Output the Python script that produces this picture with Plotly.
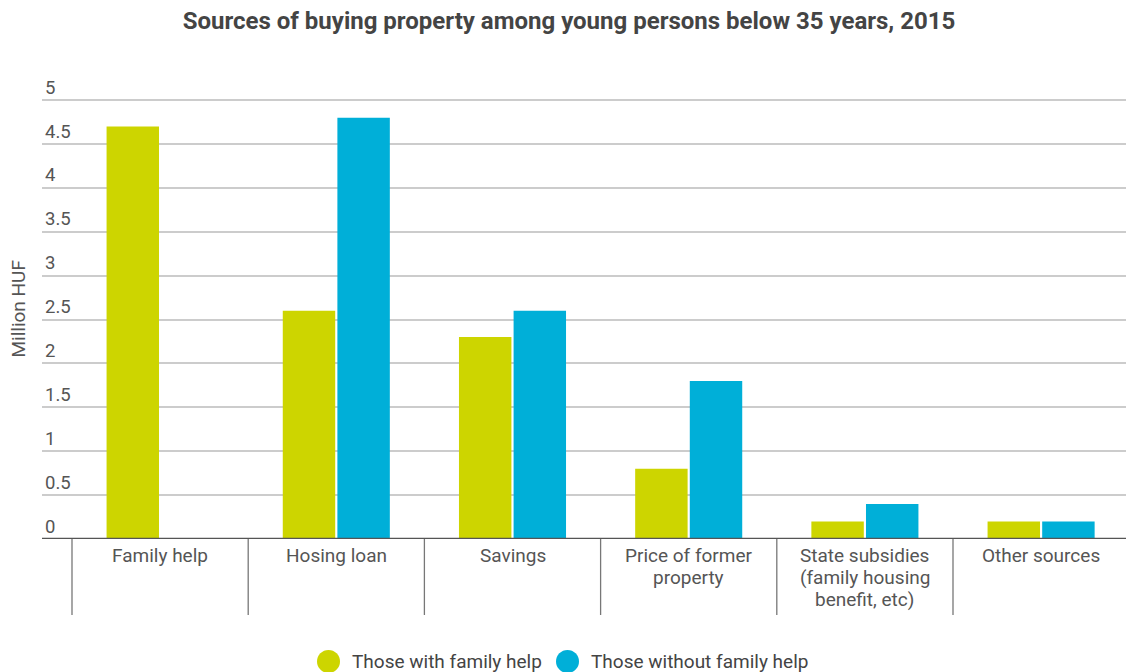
import plotly.graph_objects as go

categories = ["Family help", "Hosing loan", "Savings", "Price of former<br>property",
              "State subsidies<br>(family housing<br>benefit, etc)", "Other sources"]
with_help = [4.7, 2.6, 2.3, 0.8, 0.2, 0.2]
without_help = [0, 4.8, 2.6, 1.8, 0.4, 0.2]
series_names = ["Those with family help", "Those without family help"]
colors = ["#CDD500", "#00AFD8"]
y_ticks = [0, 0.5, 1, 1.5, 2, 2.5, 3, 3.5, 4, 4.5, 5]
y_tick_text = ["0", "0.5", "1", "1.5", "2", "2.5", "3", "3.5", "4", "4.5", "5"]

xs = list(range(len(categories)))
fig = go.Figure()
for name, vals, col in zip(series_names, [with_help, without_help], colors):
    fig.add_trace(go.Bar(x=xs, y=vals, name=name, marker=dict(color=col, line=dict(width=0)),
                         showlegend=False))

W, H = 1126, 672
left, right = 42, 1126
catw = 176.2
x0 = -0.5 - (72 - left) / catw
x1 = x0 + (right - left) / catw
y_top = 5.4
px_per_unit = (539 - 100) / 5.0
top_px = 539 - y_top * px_per_unit
plot_h = 539 - top_px

def py(px):
    return (539 - px) / plot_h

shapes = []
for i in range(len(categories) + 1):
    shapes.append(dict(type="line", xref="x", yref="paper", x0=i - 0.5, x1=i - 0.5,
                       y0=0, y1=py(615), line=dict(color="#777", width=1.3)))
shapes.append(dict(type="line", xref="paper", yref="y", x0=0, x1=1, y0=0, y1=0,
                   line=dict(color="#555", width=2.5)))

annotations = []
# category labels, one annotation per line for tighter line spacing
for i, cat in enumerate(categories):
    for j, line in enumerate(cat.split("<br>")):
        annotations.append(dict(text=line, xref="x", yref="paper", x=i, y=py(556 + 22 * j),
                                xanchor="center", yanchor="middle", showarrow=False,
                                font=dict(size=19, color="#555")))

# manual legend (large circle markers)
legend_items = [(328.5, 350), (567.5, 589)]
for (cx, tx), name, col in zip(legend_items, series_names, colors):
    r = 11.5
    shapes.append(dict(type="circle", xref="paper", yref="paper",
                       x0=(cx - r - left) / (right - left), x1=(cx + r - left) / (right - left),
                       y0=py(661.5 + r), y1=py(661.5 - r),
                       fillcolor=col, line=dict(width=0)))
    annotations.append(dict(text=name, xref="paper", yref="paper",
                            x=(tx - left) / (right - left), y=py(661.5),
                            xanchor="left", yanchor="middle", showarrow=False,
                            font=dict(size=19, color="#444")))

annotations.append(dict(text="Million HUF", xref="paper", yref="paper",
                        x=(18.5 - left) / (right - left), y=py(309),
                        xanchor="center", yanchor="middle", textangle=-90, showarrow=False,
                        font=dict(size=19, color="#555")))

fig.update_layout(
    width=W, height=H,
    margin=dict(l=left, r=W - right, t=top_px, b=H - 539, autoexpand=False),
    paper_bgcolor="white", plot_bgcolor="white",
    font=dict(family="Roboto", color="#555", size=18),
    title=dict(text="<b>Sources of buying property among young persons below 35 years, 2015</b>",
               x=569 / W, xref="container", xanchor="center", y=1 - 21 / H, yanchor="middle",
               font=dict(size=24, color="#444", family="Roboto")),
    barmode="group", bargap=0.38, bargroupgap=0.04,
    showlegend=False,
    xaxis=dict(range=[x0, x1], tickvals=xs, showticklabels=False, showgrid=False,
               zeroline=False, showline=False, ticks="", automargin=False),
    yaxis=dict(range=[0, y_top], tickvals=y_ticks, ticktext=y_tick_text,
               ticklabelposition="inside top", showgrid=True, gridcolor="#cccccc", gridwidth=1.5,
               zeroline=False, showline=False, ticks="", automargin=False,
               tickfont=dict(size=18.5, color="#555")),
    shapes=shapes,
    annotations=annotations,
)
fig.write_html("out.html", config={"displayModeBar": False},
               post_script="document.body.style.margin='0px';")
